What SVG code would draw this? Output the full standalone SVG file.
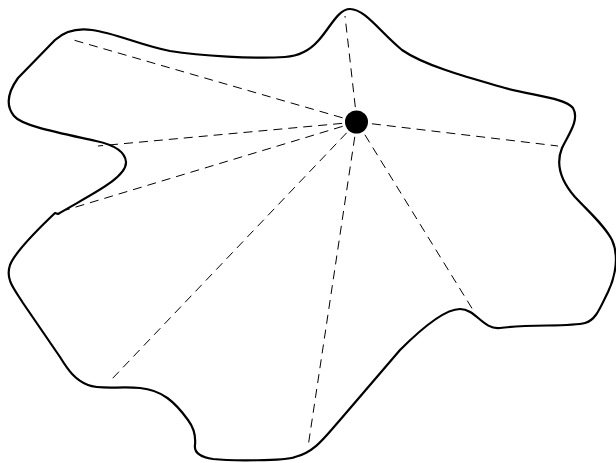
<svg xmlns="http://www.w3.org/2000/svg" width="616" height="463" viewBox="0 0 616 463">
<style>
.outline{fill:#fff;stroke:#000;stroke-width:2.2;stroke-linejoin:round}
.ray{stroke:#000;stroke-width:1;stroke-dasharray:9 6;fill:none}
</style>
<rect width="616" height="463" fill="#fff"/>
<g id="region">
<path class="outline" d="M 55,213 L 58,214 C 90,195 127,178 126,162 C 125,150 110,144 96,141 C 60,133 22,126 14,116 C 5,105 8,92 18,78 L 55,40 C 66,30 78,28 92,30 C 115,33 140,45 170,51 C 200,56 255,59 285,57 C 300,56 310,50 318,41 C 330,28 338,9 350,9 C 365,9 380,32 402,50 C 425,66 470,78 505,88 C 535,96 565,98 573,108 C 580,120 568,135 562,148 C 555,165 562,182 575,197 C 590,213 605,226 612,240 C 619,255 616,275 608,292 C 600,308 596,320 585,323 C 570,327 530,324 500,328 C 483,330 476,309 460,309 C 445,309 420,330 400,350 L 340,420 C 325,437 315,452 295,457 C 285,461 230,461 213,459 C 200,457 194,452 195,445 C 196,435 194,428 188,420 C 175,402 162,390 140,388 C 120,386 100,390 88,385 C 75,380 68,370 60,357 L 23,303 C 15,290 5,280 10,265 C 15,252 35,232 55,213 Z"/>
</g>
<g id="rays">
<line class="ray" x1="357" y1="122" x2="70" y2="39"/>
<line class="ray" x1="357" y1="122" x2="345" y2="16"/>
<line class="ray" x1="357" y1="122" x2="558" y2="146"/>
<line class="ray" x1="357" y1="122" x2="473" y2="310"/>
<line class="ray" x1="357" y1="122" x2="308" y2="447"/>
<line class="ray" x1="357" y1="122" x2="111" y2="380"/>
<line class="ray" x1="357" y1="122" x2="66" y2="210"/>
<line class="ray" x1="357" y1="122" x2="98" y2="146"/>
</g>
<g id="center">
<circle cx="356.5" cy="122" r="11.5" fill="#000"/>
</g>
</svg>
